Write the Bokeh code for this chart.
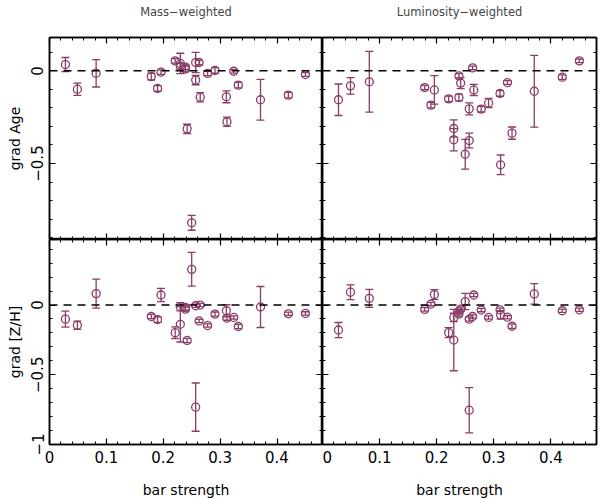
from bokeh.plotting import figure
from bokeh.models import (ColumnDataSource, Whisker, TeeHead, Span, LinearAxis,
                          FixedTicker, Range1d, CustomJSTickFormatter,
                          CustomLabelingPolicy)
from bokeh.layouts import gridplot
from bokeh.embed import file_html
from bokeh.resources import INLINE

# bar strength of the galaxies (same sample in every panel)
bar_strength = [0.028, 0.049, 0.082, 0.179, 0.190, 0.196, 0.221, 0.230, 0.230,
                0.239, 0.239, 0.242, 0.250, 0.257, 0.257, 0.263, 0.265, 0.278,
                0.291, 0.311, 0.312, 0.324, 0.332, 0.371, 0.420, 0.450]

# age gradient, mass-weighted
age_mass = [0.034, -0.099, -0.013, -0.031, -0.095, -0.007, 0.054, 0.040, 0.025,
            0.010, 0.020, -0.313, -0.820, 0.045, -0.050, 0.045, -0.142, -0.014,
            0.002, -0.140, -0.275, -0.002, -0.077, -0.156, -0.131, -0.020]
age_mass_err = [0.038, 0.033, 0.074, 0.018, 0.015, 0.012, 0.012, 0.055, 0.015,
                0.015, 0.012, 0.025, 0.040, 0.055, 0.025, 0.012, 0.025, 0.012,
                0.015, 0.032, 0.025, 0.010, 0.015, 0.110, 0.015, 0.010]

# age gradient, luminosity-weighted
age_lum = [-0.156, -0.081, -0.059, -0.090, -0.185, -0.103, -0.151, -0.311, -0.372,
           -0.027, -0.144, -0.066, -0.450, -0.376, -0.205, 0.016, -0.103, -0.207,
           -0.173, -0.122, -0.507, -0.063, -0.336, -0.110, -0.034, 0.054]
age_lum_err = [0.085, 0.045, 0.164, 0.012, 0.015, 0.077, 0.015, 0.047, 0.060,
               0.012, 0.018, 0.030, 0.080, 0.040, 0.032, 0.010, 0.030, 0.015,
               0.025, 0.015, 0.053, 0.010, 0.033, 0.194, 0.012, 0.010]

# metallicity gradient, mass-weighted
zh_mass = [-0.101, -0.145, 0.082, -0.082, -0.104, 0.072, -0.198, -0.138, -0.012,
           -0.017, -0.029, -0.254, 0.256, -0.732, -0.005, -0.114, 0.000, -0.147,
           -0.065, -0.041, -0.094, -0.089, -0.154, -0.014, -0.063, -0.060]
zh_mass_err = [0.057, 0.030, 0.104, 0.015, 0.020, 0.047, 0.042, 0.127, 0.030,
               0.020, 0.015, 0.015, 0.121, 0.173, 0.012, 0.012, 0.012, 0.012,
               0.015, 0.043, 0.015, 0.012, 0.015, 0.147, 0.012, 0.012]

# metallicity gradient, luminosity-weighted
zh_lum = [-0.179, 0.092, 0.048, -0.031, 0.007, 0.075, -0.198, -0.251, -0.089,
          -0.065, -0.045, -0.030, 0.025, -0.754, -0.101, -0.082, 0.072, -0.036,
          -0.089, -0.034, -0.070, -0.087, -0.152, 0.080, -0.041, -0.034]
zh_lum_err = [0.054, 0.053, 0.064, 0.012, 0.012, 0.035, 0.036, 0.220, 0.030,
              0.015, 0.015, 0.015, 0.058, 0.162, 0.015, 0.012, 0.012, 0.012,
              0.012, 0.012, 0.030, 0.012, 0.015, 0.074, 0.012, 0.012]

x_ticks = [0, 0.1, 0.2, 0.3, 0.4]
x_minor = [round(0.02 * i, 2) for i in range(25)]
age_ticks = [-0.5, 0]
age_minor = [-0.9, -0.8, -0.7, -0.6, -0.5, -0.4, -0.3, -0.2, -0.1, 0, 0.1]
zh_ticks = [-1, -0.5, 0]
zh_minor = [-1, -0.9, -0.8, -0.7, -0.6, -0.5, -0.4, -0.3, -0.2, -0.1, 0, 0.1, 0.2, 0.3, 0.4]

COL = "#8a3d68"
FONT = "DejaVu Sans"

# minus sign like the original
fmt_code = 'return (tick < 0 ? "\\u2212" : "") + Math.abs(tick).toString();'
# mirrored axes: ticks only, no labels
no_labels = "for (const i of indices) { indices.unset(i) }"


def style_axis(ax, labels):
    ax.major_tick_in = 6
    ax.major_tick_out = 0
    ax.minor_tick_in = 3
    ax.minor_tick_out = 0
    ax.axis_line_width = 1.5
    ax.major_tick_line_width = 1.2
    ax.minor_tick_line_width = 1
    ax.axis_line_color = "black"
    if labels:
        ax.major_label_text_font = FONT
        ax.major_label_text_font_size = "15px"
        ax.major_label_text_color = "black"
        ax.major_label_standoff = 6
        ax.axis_label_text_font = FONT
        ax.axis_label_text_font_size = "14px"
        ax.axis_label_text_font_style = "normal"
        ax.axis_label_text_color = "black"
        ax.axis_label_standoff = 16
    else:
        ax.major_label_policy = CustomLabelingPolicy(code=no_labels)
        ax.major_label_text_font_size = "0px"
        ax.major_label_standoff = 0
        ax.axis_label = None


def make_panel(y, err, yr, yticks, yminor, left, bottom, title=None, ylabel=None):
    p = figure(frame_width=273 if left else 274, frame_height=205 if bottom else 202,
               x_range=Range1d(0, 0.48), y_range=Range1d(*yr),
               x_axis_type=None, y_axis_type=None,
               output_backend="svg", toolbar_location=None,
               min_border_left=49 if left else 0, min_border_right=0 if left else 2,
               min_border_top=0 if bottom else 37, min_border_bottom=54 if bottom else 0)
    p.grid.visible = False
    p.outline_line_color = "black"
    p.outline_line_width = 1.5
    p.background_fill_color = "white"
    p.border_fill_color = "white"

    if title:
        # second blank line lifts the title to the top of the border
        p.title.text = title + "\n\u00a0"
        p.title.align = "center"
        p.title.vertical_align = "top"
        p.title.text_font = FONT
        p.title.text_font_size = "11.5px"
        p.title.text_font_style = "normal"
        p.title.standoff = 6

    fmt = CustomJSTickFormatter(code=fmt_code)
    for side in ("below", "above"):
        ax = LinearAxis(ticker=FixedTicker(ticks=x_ticks, minor_ticks=x_minor), formatter=fmt)
        show_lab = side == "below" and bottom
        style_axis(ax, show_lab)
        if show_lab:
            ax.axis_label = "bar strength"
        p.add_layout(ax, side)
    for side in ("left", "right"):
        ax = LinearAxis(ticker=FixedTicker(ticks=yticks, minor_ticks=yminor), formatter=fmt)
        show_lab = side == "left" and left
        style_axis(ax, show_lab)
        if show_lab:
            ax.axis_label = ylabel
            ax.major_label_orientation = "vertical"
            ax.axis_label_standoff = 6
        p.add_layout(ax, side)

    p.add_layout(Span(location=0, dimension="width", line_color="black",
                      line_dash="8 6", line_width=1.5))

    upper = [a + b for a, b in zip(y, err)]
    lower = [a - b for a, b in zip(y, err)]
    src = ColumnDataSource(dict(x=bar_strength, y=y, upper=upper, lower=lower))
    p.add_layout(Whisker(base="x", upper="upper", lower="lower", source=src,
                         line_color=COL, line_width=1.3,
                         upper_head=TeeHead(size=8, line_color=COL, line_width=1.3),
                         lower_head=TeeHead(size=8, line_color=COL, line_width=1.3)))
    p.scatter("x", "y", source=src, marker="circle", size=8, fill_color=None,
              line_color=COL, line_width=1.3)
    return p


p1 = make_panel(age_mass, age_mass_err, (-0.91, 0.18), age_ticks, age_minor,
                True, False, title="Mass\u2212weighted", ylabel="grad Age")
p2 = make_panel(age_lum, age_lum_err, (-0.91, 0.18), age_ticks, age_minor,
                False, False, title="Luminosity\u2212weighted")
p3 = make_panel(zh_mass, zh_mass_err, (-1.0, 0.47), zh_ticks, zh_minor,
                True, True, ylabel="grad [Z/H]")
p4 = make_panel(zh_lum, zh_lum_err, (-1.0, 0.47), zh_ticks, zh_minor,
                False, True)

grid = gridplot([[p1, p2], [p3, p4]], toolbar_location=None)

open("out.html", "w").write(file_html(grid, INLINE))
